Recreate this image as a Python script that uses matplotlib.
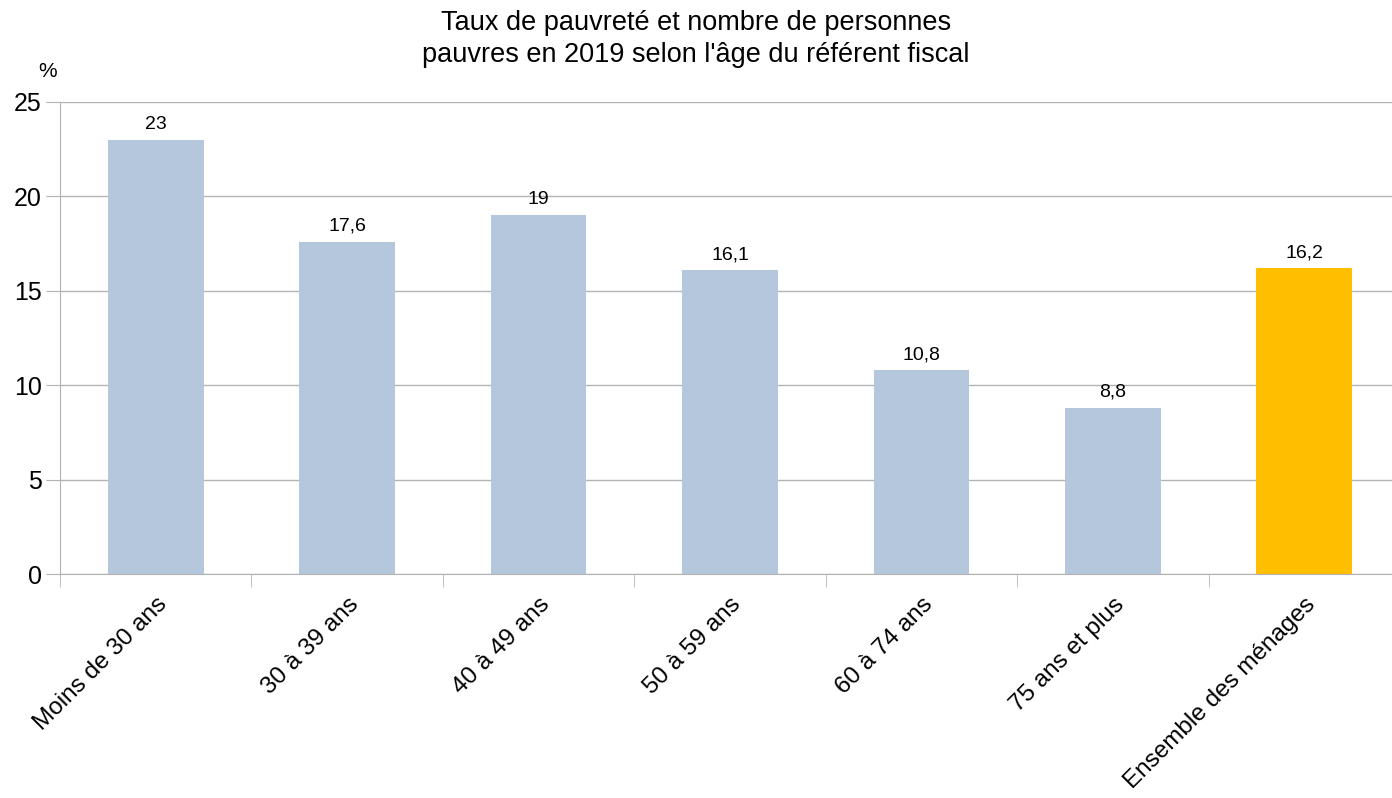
import numpy as np
import matplotlib.pyplot as plt
from matplotlib.ticker import FixedLocator

plt.rcParams['font.family'] = ['Liberation Sans', 'DejaVu Sans']

# Données
categories = ["Moins de 30 ans", "30 à 39 ans", "40 à 49 ans", "50 à 59 ans",
              "60 à 74 ans", "75 ans et plus", "Ensemble des ménages"]
valeurs = [23, 17.6, 19, 16.1, 10.8, 8.8, 16.2]
etiquettes = ["23", "17,6", "19", "16,1", "10,8", "8,8", "16,2"]
couleurs = ["#b4c7dc"] * 6 + ["#ffbf00"]

fig = plt.figure(figsize=(13.92, 7.98), dpi=100)
ax = fig.add_axes([60 / 1392, 0.2807, 1340 / 1392, 0.5915])

x = np.arange(len(categories))
ax.bar(x, valeurs, width=0.5, color=couleurs, zorder=2)

# Etiquettes des valeurs
for xi, v, lab in zip(x, valeurs, etiquettes):
    ax.annotate(lab, (xi, v), xytext=(0, 5), textcoords='offset points',
                ha='center', va='bottom', fontsize=14)

ax.set_xlim(-0.5, len(categories) - 0.5)
ax.set_ylim(0, 25)
ax.set_yticks([0, 5, 10, 15, 20, 25])
ax.yaxis.grid(True, color='#b3b3b3', linewidth=1, zorder=0)
ax.tick_params(axis='y', length=10, color='#b3b3b3', labelsize=18, pad=3)

# Graduations entre les catégories
ax.set_xticks(x)
ax.set_xticklabels(categories, rotation=45, ha='right', rotation_mode='anchor',
                   fontsize=17.5)
ax.tick_params(axis='x', length=0, pad=14)
ax.xaxis.set_minor_locator(FixedLocator(np.arange(len(categories) + 1) - 0.5))
ax.tick_params(axis='x', which='minor', length=9, color='#b3b3b3')

for s in ['top', 'right']:
    ax.spines[s].set_visible(False)
ax.spines['left'].set_color('#b3b3b3')
ax.spines['bottom'].set_color('#b3b3b3')

fig.text(0.5, 0.988, "Taux de pauvreté et nombre de personnes\npauvres en 2019 selon l'âge du référent fiscal",
         ha='center', va='top', fontsize=19.5, linespacing=1.3)
fig.text(0.034, 0.91, "%", ha='center', va='center', fontsize=15)

fig.savefig('out.png', dpi=100)
